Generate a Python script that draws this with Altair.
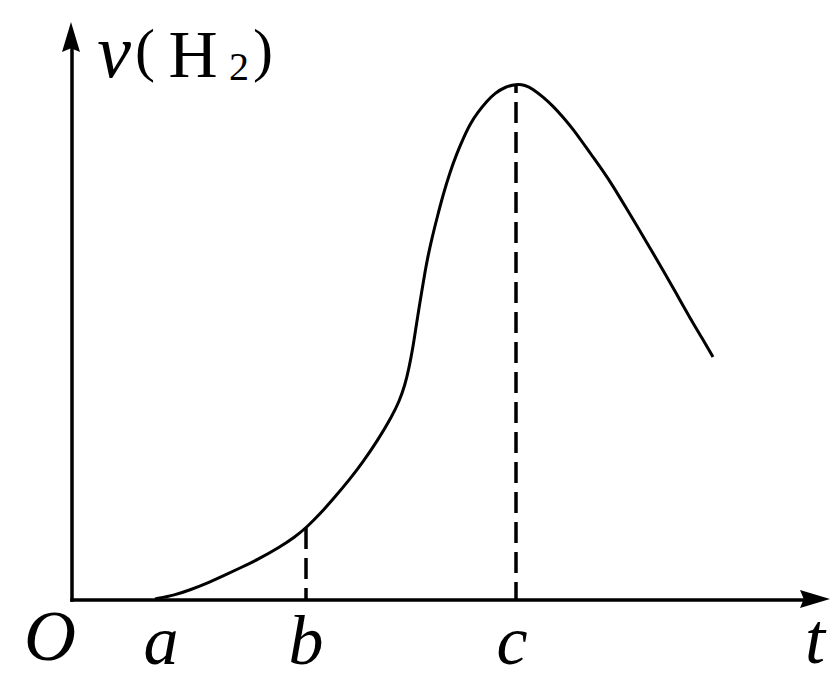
import altair as alt
import pandas as pd

# curve v(H2) versus t (arbitrary units)
t_vals = [83, 103, 118, 138, 151, 168, 185, 208, 223, 235, 248, 263, 278, 291, 306,
          320, 327, 333, 337, 341, 344, 347, 350, 353, 356, 360, 365, 371, 378, 385,
          391, 398, 406, 415, 423, 433, 444, 453, 461, 471, 481, 491, 501, 511, 521,
          531, 541, 553, 565, 578, 591, 604, 618, 630, 641]
v_vals = [1, 5, 10, 18, 24, 32, 40, 53, 63, 73, 86, 103, 121, 138, 160,
          184, 198, 215, 232, 253, 273, 292, 310, 328, 344, 362, 382, 405, 428, 447,
          461, 476, 488, 499, 507, 513, 516, 515, 511, 503, 494, 483, 471, 457, 443,
          429, 414, 394, 374, 352, 330, 307, 282, 262, 243]

# dashed drop lines at b and c
drop_b_t, drop_b_v = [234], [72]
drop_c_t, drop_c_v = [444], [516]

# axis extents
T_MAX = 758
V_MAX = 580

curve = pd.DataFrame({"t": t_vals, "v": v_vals})

xs = alt.Scale(domain=[0, T_MAX], nice=False, zero=False)
ys = alt.Scale(domain=[0, V_MAX], nice=False, zero=False)

def X(field="t"):
    return alt.X(f"{field}:Q", scale=xs, axis=None)

def Y(field="v"):
    return alt.Y(f"{field}:Q", scale=ys, axis=None)

line = alt.Chart(curve).mark_line(color="black", strokeWidth=3, interpolate="basis").encode(
    x=X(), y=Y(), order="t:Q")

def drop(tv, vv, offset):
    df = pd.DataFrame({"t": tv, "v": vv, "z": [0] * len(tv)})
    return alt.Chart(df).mark_rule(color="black", strokeWidth=3.5, strokeDash=[21, 9],
                                   strokeDashOffset=offset).encode(
        x=X(), y=Y(), y2="z:Q")

drops = drop(drop_b_t, drop_b_v, 0) + drop(drop_c_t, drop_c_v, 12)

# axes
xaxis_df = pd.DataFrame({"t": [0], "t2": [T_MAX - 13], "v": [0]})
yaxis_df = pd.DataFrame({"t": [0], "v": [0], "v2": [V_MAX - 15]})
xaxis = alt.Chart(xaxis_df).mark_rule(color="black", strokeWidth=3.5, strokeCap="square").encode(
    x=X(), x2="t2:Q", y=Y())
yaxis = alt.Chart(yaxis_df).mark_rule(color="black", strokeWidth=3.5, strokeCap="square").encode(
    x=X(), y=Y(), y2="v2:Q")

up_path = "M0,-1L0.6,1L0,0.75L-0.6,1Z"
right_path = "M1,0L-1,0.6L-0.75,0L-1,-0.6Z"
xarrow = alt.Chart(pd.DataFrame({"t": [T_MAX - 15], "v": [1]})).mark_point(
    shape=right_path, size=900, filled=True, color="black", opacity=1, strokeWidth=0).encode(x=X(), y=Y())
yarrow = alt.Chart(pd.DataFrame({"t": [-1], "v": [V_MAX - 17]})).mark_point(
    shape=up_path, size=900, filled=True, color="black", opacity=1, strokeWidth=0).encode(x=X(), y=Y())

# labels
ital = pd.DataFrame({
    "txt": ["O", "a", "b", "c", "t", "v"],
    "t":   [-22, 89, 234, 440, 743, 42],
    "v":   [-60, -64, -64, -64, -63, 523],
    "fs":  [72, 70, 70, 70, 72, 76],
})
upr = pd.DataFrame({
    "txt": ["(", "H", "2", ")"],
    "t":   [73, 121, 167, 191],
    "v":   [530, 523, 520, 530],
    "fs":  [60, 68, 40, 60],
})
ital_text = alt.Chart(ital).mark_text(font="Liberation Serif", fontStyle="italic", align="center",
                                      baseline="alphabetic", color="black").encode(
    x=X(), y=Y(), text="txt:N", size=alt.Size("fs:Q", scale=None, legend=None))
upr_text = alt.Chart(upr).mark_text(font="Liberation Serif", align="center",
                                    baseline="alphabetic", color="black").encode(
    x=X(), y=Y(), text="txt:N", size=alt.Size("fs:Q", scale=None, legend=None))

chart = alt.layer(drops, xaxis, yaxis, xarrow, yarrow, line, ital_text, upr_text).properties(
    width=758, height=580,
    autosize=alt.AutoSizeParams(type="none"),
    padding={"left": 64, "top": 12, "right": 2, "bottom": 78},
    background="white",
).configure_view(stroke=None)

chart.save("out.html", embed_options={"renderer": "svg", "actions": False})
